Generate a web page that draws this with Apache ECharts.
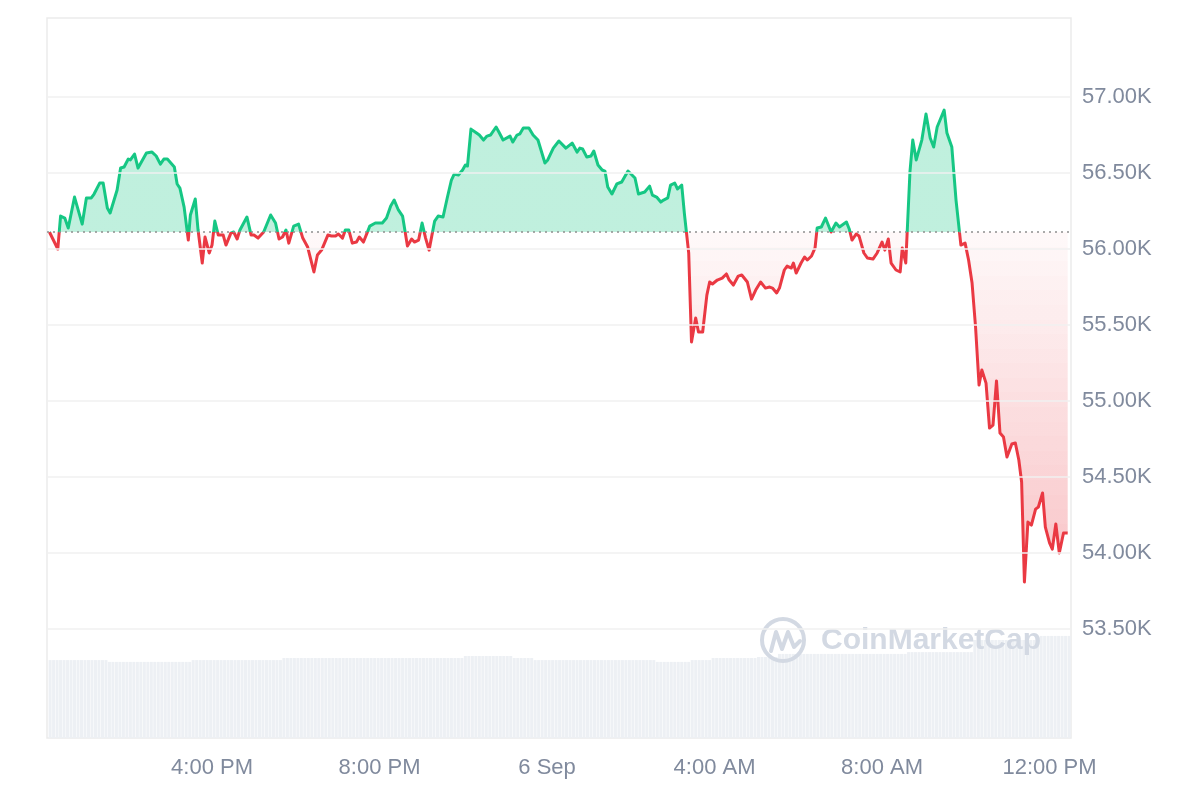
<!DOCTYPE html>
<html>
<head>
<meta charset="utf-8">
<script src="https://cdn.jsdelivr.net/npm/echarts@6/dist/echarts.min.js"></script>
<style>
  html, body { margin: 0; padding: 0; background: #ffffff; }
  #chart { width: 1200px; height: 800px; }
</style>
</head>
<body>
<div id="chart"></div>
<script>
// ---- data ----
// minutes after 5 Sep 12:00 (local time)
const minutes = [7,19,23,29,34,43,54,60,67,71,79,84,90,94,104,109,114,120,123,129,134,146,154,160,166,171,176,186,190,194,200,206,209,216,220,226,230,236,240,244,249,256,260,267,271,276,280,290,296,300,306,314,324,331,336,341,346,350,357,364,370,377,386,391,397,406,411,417,421,427,431,436,441,447,451,457,466,474,484,490,496,501,507,513,520,526,530,536,541,546,551,559,564,571,577,583,587,593,599,603,606,611,619,623,629,634,639,647,651,657,667,671,677,681,686,694,700,707,717,721,729,731,737,747,756,763,767,771,777,783,787,793,799,803,807,813,820,827,836,846,851,860,867,871,877,883,887,893,897,903,907,913,917,923,927,933,937,943,949,953,957,964,971,977,981,987,994,999,1007,1013,1019,1026,1033,1039,1043,1049,1053,1060,1064,1070,1073,1077,1084,1089,1093,1099,1104,1107,1113,1119,1123,1127,1134,1139,1149,1153,1157,1163,1167,1174,1179,1187,1193,1200,1204,1209,1213,1220,1226,1229,1234,1240,1244,1249,1257,1263,1269,1274,1279,1289,1293,1300,1306,1313,1319,1324,1329,1334,1339,1343,1349,1354,1359,1364,1369,1374,1379,1386,1391,1396,1400,1404,1409,1414,1420,1424,1430,1434,1440,1444,1449,1454,1460,1466];
// price in USD
const prices = [56112,56000,56217,56204,56138,56342,56164,56336,56336,56362,56434,56434,56270,56237,56388,56533,56540,56592,56586,56625,56533,56632,56638,56612,56559,56592,56592,56540,56428,56401,56276,56059,56224,56329,56125,55908,56079,55974,56026,56184,56092,56092,56026,56105,56112,56066,56125,56211,56092,56092,56072,56112,56224,56171,56066,56079,56125,56039,56151,56164,56072,56013,55849,55961,55993,56092,56086,56086,56099,56072,56125,56125,56039,56046,56079,56046,56151,56171,56171,56204,56283,56322,56257,56217,56020,56066,56046,56059,56171,56072,55993,56184,56217,56211,56336,56454,56493,56487,56520,56553,56546,56789,56763,56750,56717,56743,56750,56803,56770,56717,56743,56704,56750,56757,56796,56796,56750,56717,56566,56586,56664,56664,56711,56664,56697,56638,56664,56658,56605,56612,56645,56553,56520,56513,56408,56362,56428,56441,56513,56467,56362,56375,56414,56355,56342,56309,56322,56336,56421,56434,56395,56421,56224,55974,55388,55546,55454,55454,55697,55783,55770,55796,55809,55836,55796,55763,55822,55829,55783,55671,55730,55783,55743,55750,55743,55711,55743,55862,55888,55875,55908,55842,55908,55947,55928,55954,56007,56138,56145,56204,56158,56112,56171,56145,56178,56132,56059,56099,56086,55974,55941,55934,55974,56046,55993,56066,55908,55862,55849,56007,55908,56507,56717,56586,56717,56888,56730,56671,56803,56914,56763,56671,56322,56026,56039,55928,55776,55487,55105,55204,55118,54822,54842,55132,54789,54763,54632,54717,54724,54612,54467,53809,54204,54184,54289,54303,54395,54171,54066,54026,54191,54000,54132,54132];
// opening price (dotted reference line)
const openPrice = 56112;
// 24h volume (billions USD), one bar every 5 minutes from 12:08
const volumeStartMinute = 8;
const volumeStepMinutes = 5;
const volumes = [
30.3,30.3,30.3,30.3,30.3,30.3,30.3,30.3,30.3,30.3,30.3,30.3,30.3,30.3,30.3,30.3,30.3,
29.6,29.6,29.6,29.6,29.6,29.6,29.6,29.6,29.6,29.6,29.6,29.6,29.6,29.6,29.6,29.6,29.6,29.6,29.6,29.6,29.6,29.6,29.6,29.6,
30.3,30.3,30.3,30.3,30.3,30.3,30.3,30.3,30.3,30.3,30.3,30.3,30.3,30.3,30.3,30.3,30.3,30.3,30.3,30.3,30.3,30.3,30.3,30.3,30.3,30.3,
31.1,31.1,31.1,31.1,31.1,31.1,31.1,31.1,31.1,31.1,31.1,31.1,31.1,31.1,31.1,31.1,31.1,31.1,31.1,31.1,31.1,31.1,31.1,31.1,31.1,31.1,
31.1,31.1,31.1,31.1,31.1,31.1,31.1,31.1,31.1,31.1,31.1,31.1,31.1,31.1,31.1,31.1,31.1,31.1,31.1,31.1,31.1,31.1,31.1,31.1,31.1,31.1,
31.9,31.9,31.9,31.9,31.9,31.9,31.9,31.9,31.9,31.9,31.9,31.9,31.9,31.9,
31.1,31.1,31.1,31.1,31.1,31.1,
30.3,30.3,30.3,30.3,30.3,30.3,30.3,30.3,30.3,30.3,30.3,30.3,30.3,30.3,30.3,30.3,30.3,30.3,30.3,30.3,30.3,30.3,30.3,30.3,30.3,30.3,30.3,30.3,30.3,30.3,30.3,30.3,30.3,30.3,30.3,
29.6,29.6,29.6,29.6,29.6,29.6,29.6,29.6,29.6,29.6,
30.3,30.3,30.3,30.3,30.3,30.3,
31.1,31.1,31.1,31.1,31.1,31.1,31.1,31.1,31.1,31.1,31.1,31.1,31.1,
31.5,31.5,31.5,31.5,31.5,31.5,
32.7,32.7,32.7,32.7,32.7,32.7,32.7,32.7,32.7,32.7,32.7,32.7,32.7,32.7,32.7,32.7,32.7,32.7,32.7,32.7,32.7,32.7,32.7,32.7,32.7,32.7,32.7,32.7,32.7,32.7,32.7,32.7,32.7,32.7,32.7,32.7,32.7,
33.4,33.4,33.4,33.4,33.4,33.4,33.4,33.4,33.4,33.4,33.4,33.4,33.4,33.4,33.4,33.4,33.4,33.4,33.4,
38.1,38.1,38.1,38.1,38.1,38.1,38.1,38.1,38.1,38.1,38.1,38.1,38.1,38.1,38.1,38.1,38.1,38.1,38.1,
39.7,39.7,39.7,39.7,39.7,39.7,39.7,39.7,39.7
];
const priceAxisTicks = [53500, 54000, 54500, 55000, 55500, 56000, 56500, 57000];
const monthNames = ['Jan','Feb','Mar','Apr','May','Jun','Jul','Aug','Sep','Oct','Nov','Dec'];

// ---- build ----
const baseTime = new Date(2024, 8, 5, 12, 0, 0).getTime();
const MIN = 60000;
const priceData = minutes.map((m, i) => [baseTime + m * MIN, prices[i]]);
const volumeData = volumes.map((v, i) => [baseTime + (volumeStartMinute + i * volumeStepMinutes) * MIN, v]);

const GREEN = '#16c784';
const RED = '#ea3943';
const FONT = '"Liberation Sans", Arial, Helvetica, sans-serif';
const Y_MIN = 52783, Y_MAX = 57520;

// area colour pieces: flat green above the open, red fading in below it
const redPieces = [];
const N = 24;
const lowest = Math.min.apply(null, prices);
const step = (openPrice - lowest) / N;
for (let k = 0; k < N; k++) {
  const a = 0.03 + 0.27 * (k + 0.5) / N;
  const p = { color: 'rgba(234,57,67,' + a.toFixed(3) + ')' };
  p.lte = openPrice - k * step;
  if (k < N - 1) p.gt = openPrice - (k + 1) * step;
  redPieces.push(p);
}

const chart = echarts.init(document.getElementById('chart'), null, { renderer: 'canvas' });
chart.setOption({
  animation: false,
  backgroundColor: '#ffffff',
  grid: { left: 47, right: 129, top: 18, bottom: 62, show: true, borderColor: '#ebebeb', borderWidth: 1.5, backgroundColor: 'transparent' },
  xAxis: {
    type: 'time',
    min: baseTime + 5.7 * MIN,
    max: baseTime + 1468.6 * MIN,
    minInterval: 4 * 3600 * 1000,
    maxInterval: 4 * 3600 * 1000,
    axisLine: { show: false },
    axisTick: { show: false },
    splitLine: { show: false },
    axisLabel: {
      color: '#808a9d', fontSize: 22, fontFamily: FONT, margin: 19,
      showMinLabel: false, showMaxLabel: false, hideOverlap: false,
      formatter: function (val) {
        const d = new Date(val);
        const h = d.getHours(), m = d.getMinutes();
        if (m !== 0 || h % 4 !== 0) return '';
        if (h === 0) return d.getDate() + ' ' + monthNames[d.getMonth()];
        const hh = h % 12 === 0 ? 12 : h % 12;
        return hh + ':00 ' + (h < 12 ? 'AM' : 'PM');
      }
    }
  },
  yAxis: [{
    type: 'value',
    position: 'right',
    min: Y_MIN,
    max: Y_MAX,
    splitNumber: 9,
    minInterval: 500,
    maxInterval: 500,
    axisLine: { show: false },
    axisTick: { show: false },
    splitLine: { show: false },
    axisLabel: {
      color: '#808a9d', fontSize: 22, fontFamily: FONT, margin: 11,
      formatter: function (v) {
        return priceAxisTicks.indexOf(v) >= 0 ? (v / 1000).toFixed(2) + 'K' : '';
      }
    }
  }, {
    type: 'value',
    show: false,
    min: 0,
    max: 280,
    splitLine: { show: false }
  }],
  visualMap: [{
    type: 'piecewise', show: false, dimension: 1, seriesIndex: 3,
    pieces: [
      { gt: Y_MIN - 1000, lte: openPrice, color: RED },
      { gt: openPrice, lte: Y_MAX + 1000, color: GREEN }
    ],
    outOfRange: { color: RED }
  }, {
    type: 'piecewise', show: false, dimension: 1, seriesIndex: 2,
    pieces: [{ gt: openPrice, color: 'rgba(22,199,132,0.27)' }].concat(redPieces)
  }],
  graphic: [
    { type: 'circle', z: 5, silent: true, shape: { cx: 783, cy: 640, r: 21 },
      style: { fill: 'none', stroke: '#d3d9e3', lineWidth: 4 } },
    { type: 'polyline', z: 5, silent: true,
      shape: { points: [[771, 651], [776, 632], [782, 649], [788, 632], [794, 647], [800, 641]] },
      style: { fill: 'none', stroke: '#d3d9e3', lineWidth: 4, lineJoin: 'round', lineCap: 'round' } },
    { type: 'text', z: 5, silent: true,
      style: { text: 'CoinMarketCap', x: 821, y: 641, verticalAlign: 'middle', fill: '#d3d9e3',
               font: '600 30px "Liberation Sans", Arial, sans-serif' } }
  ],
  series: [{
    // horizontal grid lines at the labelled price levels
    type: 'line',
    data: [],
    silent: true,
    z: 0,
    markLine: {
      silent: true,
      symbol: 'none',
      label: { show: false },
      lineStyle: { type: 'solid', color: '#f0f0f0', width: 1.5 },
      data: priceAxisTicks.map(v => ({ yAxis: v }))
    }
  }, {
    type: 'bar',
    yAxisIndex: 1,
    data: volumeData,
    barWidth: 3,
    itemStyle: { color: '#edf0f4' },
    silent: true,
    z: 1
  }, {
    type: 'line',
    data: priceData,
    showSymbol: false,
    symbol: 'none',
    lineStyle: { width: 0, opacity: 0 },
    areaStyle: { opacity: 1, origin: openPrice },
    silent: true,
    z: 2
  }, {
    type: 'line',
    data: priceData,
    showSymbol: false,
    symbol: 'none',
    lineStyle: { width: 3, join: 'round' },
    silent: true,
    z: 4
  }, {
    // dotted opening-price line
    type: 'line',
    data: [],
    silent: true,
    z: 3,
    markLine: {
      silent: true,
      symbol: 'none',
      label: { show: false },
      lineStyle: { type: [2, 4], color: '#8e8e8e', width: 1.5 },
      data: [{ yAxis: openPrice }]
    }
  }]
});
</script>
</body>
</html>
